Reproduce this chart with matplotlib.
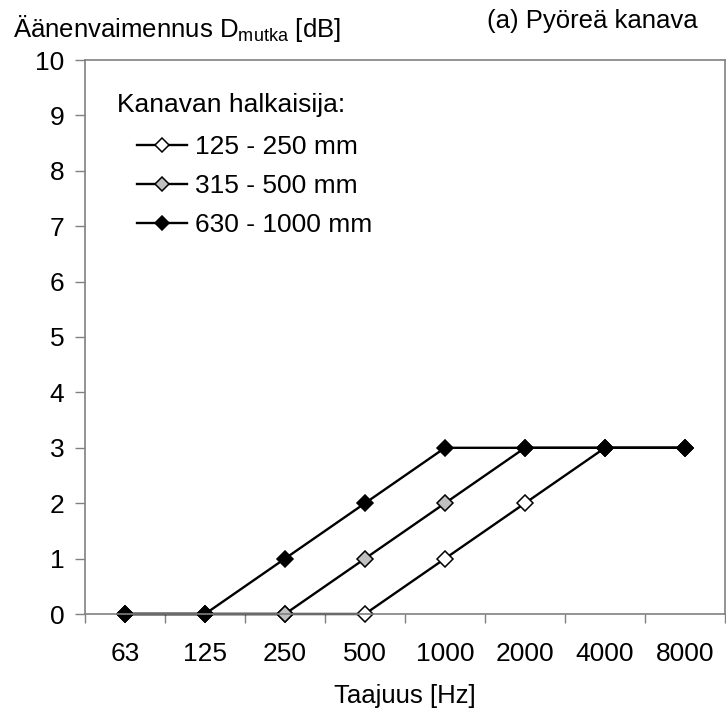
import numpy as np
import matplotlib
matplotlib.use("Agg")
import matplotlib.pyplot as plt
from matplotlib.ticker import FixedLocator, NullFormatter

plt.rcParams["font.family"] = ["Liberation Sans", "DejaVu Sans"]
plt.rcParams["mathtext.fontset"] = "custom"
plt.rcParams["mathtext.rm"] = "Liberation Sans"

FREQS = ["63", "125", "250", "500", "1000", "2000", "4000", "8000"]
SMALL = [0, 0, 0, 0, 1, 2, 3, 3]     # 125 - 250 mm
MEDIUM = [0, 0, 0, 1, 2, 3, 3, 3]    # 315 - 500 mm
LARGE = [0, 0, 1, 2, 3, 3, 3, 3]     # 630 - 1000 mm
SERIES_LABELS = ["125 - 250 mm", "315 - 500 mm", "630 - 1000 mm"]
FACE_COLORS = ["white", "#c0c0c0", "black"]

SPINE_COLOR = "#808080"
FS = 19

fig = plt.figure(figsize=(7.26, 7.16), dpi=100)
ax = fig.add_axes([85 / 726, 1 - 614 / 716, 640 / 726, 554 / 716])

x = np.arange(len(FREQS)) + 0.5
for vals, lab, fc in zip([SMALL, MEDIUM, LARGE], SERIES_LABELS, FACE_COLORS):
    ax.plot(x, vals, color="black", linewidth=1.7, marker="D", markersize=8.3,
            markerfacecolor=fc, markeredgecolor="black", markeredgewidth=1.1,
            label=lab, clip_on=False)

ax.set_xlim(0, len(FREQS))
ax.set_ylim(0, 10)
ax.set_yticks(range(0, 11))
ax.xaxis.set_major_locator(FixedLocator(np.arange(0, len(FREQS) + 1)))
ax.xaxis.set_major_formatter(NullFormatter())
ax.xaxis.set_minor_locator(FixedLocator(x))
ax.set_xticklabels(FREQS, minor=True)

ax.tick_params(axis="x", which="major", direction="out", length=6.5, width=1, color=SPINE_COLOR)
ax.tick_params(axis="x", which="minor", length=0, pad=20, labelsize=FS)
ax.tick_params(axis="y", direction="out", length=7, width=1, color=SPINE_COLOR, pad=8, labelsize=FS)

for sp in ax.spines.values():
    sp.set_color(SPINE_COLOR)
    sp.set_linewidth(1.2)

ax.text(0.05, 0.906, "Kanavan halkaisija:", transform=ax.transAxes, fontsize=FS,
        ha="left", va="baseline")
ax.legend(loc="upper left", bbox_to_anchor=(0.081, 0.864), frameon=False, fontsize=FS,
          borderpad=0, borderaxespad=0, handlelength=1.9, handletextpad=0.3,
          labelspacing=0.56, markerscale=0.85)

fig.text(13 / 726, 1 - 37 / 716, "Äänenvaimennus D$_{\\mathrm{mutka}}$ [dB]",
         fontsize=FS - 0.5, ha="left", va="baseline")
fig.text(698 / 726, 1 - 28 / 716, "(a) Pyöreä kanava", fontsize=FS - 0.5,
         ha="right", va="baseline")
fig.text(405 / 726, 1 - 703 / 716, "Taajuus [Hz]", fontsize=FS - 0.5,
         ha="center", va="baseline")

fig.savefig("out.png", dpi=100, facecolor="white")
